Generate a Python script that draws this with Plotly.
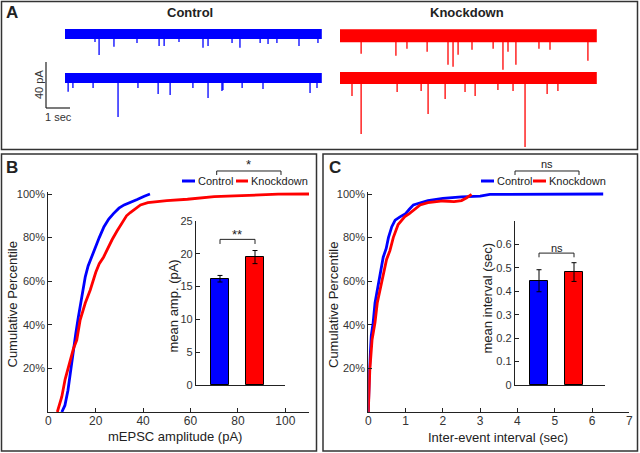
import plotly.graph_objects as go

# ---------------- data ----------------
# Panel A: miniature EPSC events (time in sec, amplitude in pA) per sweep
TRACE_DURATION = 10.7
ctrl_r1_t = [1.25, 1.42, 2.04, 3.00, 3.92, 4.13, 4.75, 5.75, 5.96, 6.96, 7.29, 8.13, 8.46, 8.83, 9.75, 10.54]
ctrl_r1_amp = [7, 18.3, 11, 7.8, 10.4, 10.4, 7, 12, 10.4, 7.8, 12, 7.8, 8.7, 7.8, 10.4, 7.8]
ctrl_r2_t = [0.13, 0.33, 1.17, 2.21, 3.04, 3.88, 4.38, 5.33, 5.96, 6.54, 6.58, 7.38, 8.25, 10.21, 10.50]
ctrl_r2_amp = [12, 8.7, 8.7, 34, 8.7, 14, 14.8, 8.7, 17.4, 11.3, 10.4, 8.7, 9.6, 13, 8.7]
kd_r1_t = [0.88, 2.33, 2.79, 3.63, 4.50, 4.71, 4.92, 5.50, 6.38, 6.79, 7.00, 7.33, 8.29, 8.75, 10.33]
kd_r1_amp = [15.7, 17.4, 11.3, 13.9, 25.2, 27, 16.5, 12.2, 11.3, 29.6, 13.9, 25.2, 11.3, 12.2, 21.7]
kd_r2_t = [0.50, 0.88, 2.38, 3.38, 3.67, 4.38, 5.21, 5.63, 6.58, 7.21, 7.71, 8.63, 9.08]
kd_r2_amp = [15.7, 48.7, 12.2, 11.3, 31.3, 18.3, 12.2, 15.7, 10.4, 11.3, 60, 13.9, 11.3]

# Panel B: cumulative distribution of mEPSC amplitude
ctrl_amp_x = [5.7, 7.0, 8.3, 9.5, 10.6, 11.6, 12.6, 13.5, 14.5, 15.6, 16.8, 18.2, 19.8, 21.5, 23.5, 25.5, 27.5, 29.8, 32.0, 34.5, 37.5, 40.5, 42.9]
ctrl_amp_pct = [0, 3, 10, 20, 29, 36, 43, 49, 55, 62, 67, 71, 76, 80, 85, 88.5, 91, 93.5, 95, 96, 97.5, 99, 100]
kd_amp_x = [3.8, 5.7, 7.1, 8.5, 10.6, 12.0, 13.4, 15.6, 17.7, 20.0, 21.5, 23.3, 25.0, 26.9, 29.0, 31.1, 33.0, 34.6, 37.0, 38.9, 42.0, 46.0, 50.0, 58.7, 65.0, 70.0, 78.5, 90.0, 97.0, 110.0]
kd_amp_pct = [0, 7, 15, 21, 29, 33, 42, 50, 56, 64, 68, 71, 75, 79, 83, 86.7, 90, 91.5, 93.5, 95, 96, 96.5, 97, 97.6, 98.2, 98.8, 99.1, 99.5, 99.9, 100]

# Panel C: cumulative distribution of inter-event interval
ctrl_iei_x = [0, 0.03, 0.08, 0.13, 0.18, 0.24, 0.32, 0.40, 0.48, 0.54, 0.63, 0.72, 0.85, 1.00, 1.10, 1.21, 1.40, 1.60, 2.00, 2.50, 3.00, 3.26, 6.30]
ctrl_iei_pct = [0, 19, 35, 41, 50, 56, 64, 71, 75, 80, 85, 88, 89.5, 91, 93, 95, 96, 97, 98, 98.7, 99, 99.8, 100]
kd_iei_x = [0, 0.04, 0.10, 0.18, 0.24, 0.31, 0.40, 0.49, 0.58, 0.67, 0.80, 0.90, 0.98, 1.10, 1.25, 1.39, 1.60, 2.00, 2.30, 2.50, 2.64, 2.77]
kd_iei_pct = [0, 19, 33, 41, 50, 56, 63, 70, 74, 80, 86, 88, 89.6, 91, 93, 95, 96, 96.8, 96.5, 97, 98.3, 99.8]

# Insets: means and SEM
groups = ["Control", "Knockdown"]
mean_amp = [16.2, 19.5]
sem_amp = [0.5, 1.0]
mean_iei = [0.445, 0.482]
sem_iei = [0.047, 0.04]

amp_ticks = [0, 5, 10, 15, 20, 25]
iei_ticks = [0, 0.1, 0.2, 0.3, 0.4, 0.5, 0.6]
iei_tick_text = ["0", "0.1", "0.2", "0.3", "0.4", "0.5", "0.6"]
pct_ticks = [20, 40, 60, 80, 100]
pct_tick_text = ["20%", "40%", "60%", "80%", "100%"]
amp_x_ticks = [0, 20, 40, 60, 80, 100]
iei_x_ticks = [0, 1, 2, 3, 4, 5, 6, 7]

# ---------------- layout helpers ----------------
W, H = 640, 453
FONT = "Liberation Sans, Arial, sans-serif"
BLUE = "#0000FF"
RED = "#FF0000"
INK = "#222222"


def fx(px):
    return px / W


def fy(py):
    return 1 - py / H


# Panel A coordinate system (sec / pA)
A_X0, A_SEC, A_Y0, A_PA = 65, 24.0, 34, 1.15
KD_T0 = (340 - A_X0) / A_SEC
ROW_OFF = [0.0, -(78 - 34) / A_PA]

fig = go.Figure()


def add_sweep(t_list, amp_list, t0, off, color, band):
    fig.add_trace(go.Scatter(x=[t0, t0 + TRACE_DURATION], y=[off, off], mode="lines",
                             line=dict(color=color, width=band), xaxis="x", yaxis="y",
                             showlegend=False, hoverinfo="skip"))
    xs, ys = [], []
    for t, a in zip(t_list, amp_list):
        xs += [t0 + t, t0 + t, None]
        ys += [off, off - a, None]
    fig.add_trace(go.Scatter(x=xs, y=ys, mode="lines", line=dict(color=color, width=1.3),
                             xaxis="x", yaxis="y", showlegend=False, hoverinfo="skip"))


add_sweep(ctrl_r1_t, ctrl_r1_amp, 0, ROW_OFF[0], BLUE, 10)
add_sweep(ctrl_r2_t, ctrl_r2_amp, 0, ROW_OFF[1], BLUE, 10)
add_sweep(kd_r1_t, kd_r1_amp, KD_T0, ROW_OFF[0] - 1.5, RED, 13)
add_sweep(kd_r2_t, kd_r2_amp, KD_T0, ROW_OFF[1], RED, 12)

# CDF curves
fig.add_trace(go.Scatter(x=ctrl_amp_x, y=ctrl_amp_pct, mode="lines", name="Control",
                         line=dict(color=BLUE, width=2.8), xaxis="x2", yaxis="y2", showlegend=False))
fig.add_trace(go.Scatter(x=kd_amp_x, y=kd_amp_pct, mode="lines", name="Knockdown",
                         line=dict(color=RED, width=2.8), xaxis="x2", yaxis="y2", showlegend=False))
fig.add_trace(go.Scatter(x=ctrl_iei_x, y=ctrl_iei_pct, mode="lines", name="Control",
                         line=dict(color=BLUE, width=2.8), xaxis="x3", yaxis="y3", showlegend=False))
fig.add_trace(go.Scatter(x=kd_iei_x, y=kd_iei_pct, mode="lines", name="Knockdown",
                         line=dict(color=RED, width=2.8), xaxis="x3", yaxis="y3", showlegend=False))

# Inset bars
for xa, ya, vals, errs in [("x4", "y4", mean_amp, sem_amp), ("x5", "y5", mean_iei, sem_iei)]:
    fig.add_trace(go.Bar(x=[1, 2], y=vals, width=0.49, marker=dict(color=[BLUE, RED], line=dict(color="black", width=1)),
                         error_y=dict(type="data", array=errs, color="black", thickness=1, width=2.5),
                         xaxis=xa, yaxis=ya, showlegend=False, hovertext=groups))

base_axis = dict(ticks="inside", ticklen=4, tickwidth=1, tickcolor=INK, showline=True, linecolor=INK,
                 linewidth=1.3, showgrid=False, zeroline=False, automargin=False, tickmode="array")
tick_y = dict(base_axis, tickfont=dict(family=FONT, size=11, color="#333"))
tick_x = dict(base_axis, tickfont=dict(family=FONT, size=12, color="#333"), ticklabelstandoff=-3)
flat_x = dict(showline=True, linecolor=INK, linewidth=1.3, showticklabels=False, ticks="",
              showgrid=False, zeroline=False, automargin=False)

PCT_DOM = [fy(412), fy(412 - 101 * 2.18)]
INSET_DOM = [fy(385), fy(221)]

fig.update_layout(
    width=W, height=H, autosize=False, margin=dict(l=0, r=0, t=0, b=0, pad=0, autoexpand=False),
    paper_bgcolor="white", plot_bgcolor="rgba(0,0,0,0)", showlegend=False,
    font=dict(family=FONT, color=INK), bargap=0,
    xaxis=dict(domain=[0, 1], range=[(0 - A_X0) / A_SEC, (W - A_X0) / A_SEC], visible=False, anchor="y", automargin=False),
    yaxis=dict(domain=[fy(150), 1], range=[(A_Y0 - 150) / A_PA, A_Y0 / A_PA], visible=False, anchor="x", automargin=False),
    xaxis2=dict(domain=[fx(48.3), fx(309)], range=[0, 110], tickvals=amp_x_ticks, anchor="y2", **tick_x),
    yaxis2=dict(domain=PCT_DOM, range=[0, 101], tickvals=pct_ticks, ticktext=pct_tick_text, anchor="x2", **tick_y),
    xaxis3=dict(domain=[fx(368.3), fx(629.3)], range=[0, 7], tickvals=iei_x_ticks, anchor="y3", **tick_x),
    yaxis3=dict(domain=PCT_DOM, range=[0, 101], tickvals=pct_ticks, ticktext=pct_tick_text, anchor="x3", **tick_y),
    xaxis4=dict(domain=[fx(196), fx(285)], range=[0.314, 2.857], anchor="y4", **flat_x),
    yaxis4=dict(domain=INSET_DOM, range=[0, 25], tickvals=amp_ticks, anchor="x4", **tick_y),
    xaxis5=dict(domain=[fx(515), fx(605)], range=[0.314, 2.886], anchor="y5", **flat_x),
    yaxis5=dict(domain=INSET_DOM, range=[0, 0.7], tickvals=iei_ticks, ticktext=iei_tick_text, anchor="x5", **tick_y),
)

shapes = []
# panel boxes
for x0, y0, x1, y1 in [(1.5, 1.5, 637.5, 149.5), (1.5, 154, 316.5, 451), (323, 154, 637.5, 451)]:
    shapes.append(dict(type="rect", xref="paper", yref="paper", x0=fx(x0), x1=fx(x1), y0=fy(y1), y1=fy(y0),
                       line=dict(color="#333", width=1.5)))
# scale bar (40 pA, 1 sec)
sb_t = (46 - A_X0) / A_SEC
sb_top = (A_Y0 - 62) / A_PA
shapes.append(dict(type="line", xref="x", yref="y", x0=sb_t, x1=sb_t, y0=sb_top, y1=sb_top - 40,
                   line=dict(color=INK, width=1.2)))
shapes.append(dict(type="line", xref="x", yref="y", x0=sb_t, x1=sb_t + 1, y0=sb_top - 40, y1=sb_top - 40,
                   line=dict(color=INK, width=1.2)))


def paper_path(pts):
    return "M " + " L ".join(f"{fx(x):.5f},{fy(y):.5f}" for x, y in pts)


# top significance brackets
for xa, xb in [(216.7, 281), (515, 579)]:
    shapes.append(dict(type="path", xref="paper", yref="paper",
                       path=paper_path([(xa, 175), (xa, 171), (xb, 171), (xb, 175)]),
                       line=dict(color=INK, width=1)))
# legend swatches
for x0, x1, c in [(182, 195, BLUE), (236, 248, RED), (481, 494, BLUE), (533, 546, RED)]:
    shapes.append(dict(type="line", xref="paper", yref="paper", x0=fx(x0), x1=fx(x1), y0=fy(181), y1=fy(181),
                       line=dict(color=c, width=3)))
# inset brackets
shapes.append(dict(type="path", xref="x4", yref="y4", path="M 1,21.5 L 1,22.2 L 2,22.2 L 2,21.5",
                   line=dict(color=INK, width=1)))
shapes.append(dict(type="path", xref="x5", yref="y5", path="M 1,0.545 L 1,0.563 L 2,0.563 L 2,0.545",
                   line=dict(color=INK, width=1)))
fig.update_layout(shapes=shapes)

ann = []


def text(x, y, s, size=13, bold=False, angle=0, xanchor="center", color=INK):
    ann.append(dict(x=fx(x), y=fy(y), xref="paper", yref="paper", text=f"<b>{s}</b>" if bold else s,
                    showarrow=False, xanchor=xanchor, yanchor="middle", textangle=angle,
                    font=dict(family=FONT, size=size, color=color)))


text(12, 12, "A", 17, True)
text(12, 167, "B", 17, True)
text(335, 167, "C", 17, True)
text(190, 12, "Control", 13, True)
text(467, 12, "Knockdown", 13, True)
text(39, 85, "40 pA", 11, angle=-90, color="#333")
text(58, 117, "1 sec", 11, color="#333")
text(11.5, 305, "Cumulative Percentile", 13, angle=-90)
text(333, 305, "Cumulative Percentile", 13, angle=-90)
text(175, 436, "mEPSC amplitude (pA)", 13)
text(498, 437, "Inter-event interval (sec)", 13)
text(172.5, 306, "mean amp. (pA)", 13, angle=-90)
text(486.5, 298, "mean interval (sec)", 13, angle=-90)
text(196, 181, "Control", 11, xanchor="left")
text(249, 181, "Knockdown", 11, xanchor="left")
text(495, 181, "Control", 11, xanchor="left")
text(547, 181, "Knockdown", 11, xanchor="left")
text(248.5, 164, "*", 13)
text(547, 164, "ns", 11)
text(236.5, 234, "**", 13)
text(556.5, 248, "ns", 11)
fig.update_layout(annotations=ann)

fig.write_html("out.html", config={"displayModeBar": False},
               post_script="document.body.style.margin='0';document.body.style.padding='0';"
                           "document.body.style.overflow='hidden';")
